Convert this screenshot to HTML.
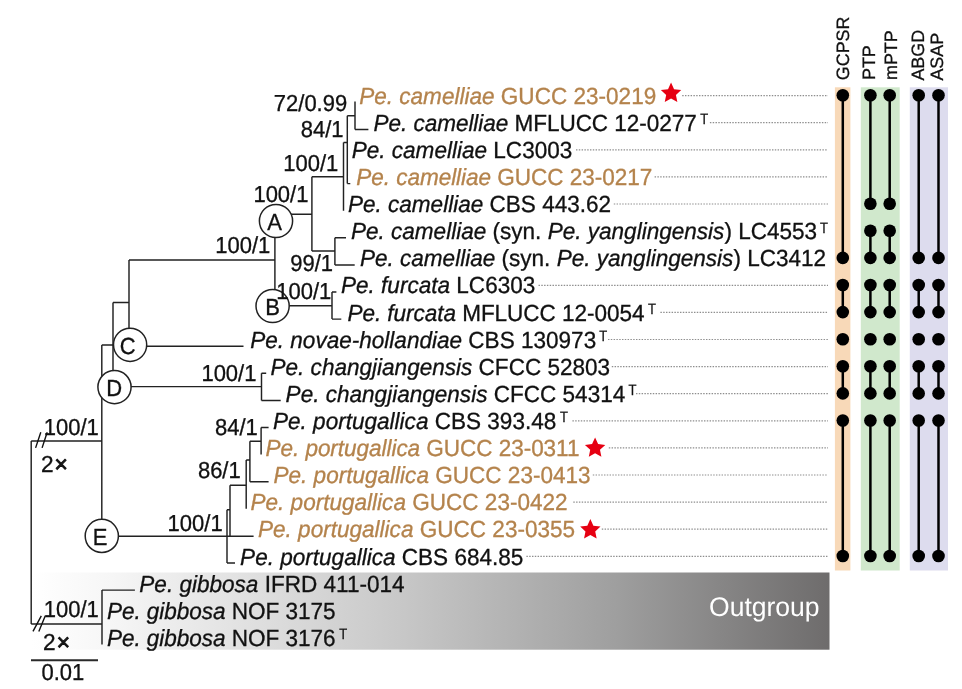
<!DOCTYPE html>
<html lang="en"><head><meta charset="utf-8"><title>Phylogenetic tree</title>
<style>
html,body{margin:0;padding:0;background:#fff;}
body{width:962px;height:689px;overflow:hidden;}
svg{display:block;font-family:"Liberation Sans",Arial,sans-serif;text-rendering:geometricPrecision;}
.t{font-size:22.56px;fill:#111;stroke:#111;stroke-width:.3;}
.br{fill:#b4834c;stroke:#b4834c;}
.i{font-style:italic;}
.lb{font-size:22px;fill:#111;stroke:#111;stroke-width:.3;}
.ln{stroke:#222;stroke-width:1.45;fill:none;stroke-linecap:butt;}
.dot{stroke:#8e8e8e;stroke-width:1.2;stroke-dasharray:1.45 1.35;fill:none;}
.col{font-size:17.9px;fill:#111;stroke:#111;stroke-width:.3;}
.sup{font-size:13px;fill:#111;stroke:#111;stroke-width:.25;}
.cl{stroke:#000;stroke-width:2.5;}
.circ{fill:#fff;stroke:#222;stroke-width:1.5;}
.cn{font-size:22px;fill:#111;text-anchor:middle;stroke:#111;stroke-width:.3;}
</style></head><body>
<svg width="962" height="689" viewBox="0 0 962 689">
<defs><linearGradient id="og" x1="0" y1="0" x2="1" y2="0"><stop offset="0" stop-color="#ffffff"/><stop offset="0.1" stop-color="#f6f6f6"/><stop offset="0.46" stop-color="#c8c8c8"/><stop offset="0.73" stop-color="#9f9f9f"/><stop offset="1" stop-color="#6e6c6c"/></linearGradient></defs>

<rect x="834.9" y="87.3" width="15.5" height="483.2" fill="#f8d9b8"/>
<rect x="860.8" y="87.3" width="38.9" height="483.2" fill="#d0e8cc"/>
<rect x="909.8" y="87.3" width="38.2" height="483.2" fill="#dddcee"/>
<rect x="32" y="572.5" width="797.5" height="77.2" fill="url(#og)"/>
<text x="709" y="616.3" font-size="27" fill="#fff" textLength="110.6" lengthAdjust="spacingAndGlyphs">Outgroup</text>
<line class="dot" x1="682.2" y1="95.6" x2="828" y2="95.6"/>
<line class="dot" x1="709.9" y1="122.7" x2="828" y2="122.7"/>
<line class="dot" x1="576" y1="149.8" x2="828" y2="149.8"/>
<line class="dot" x1="654.6" y1="176.9" x2="828" y2="176.9"/>
<line class="dot" x1="613.8" y1="204.0" x2="828" y2="204.0"/>
<line class="dot" x1="538.5" y1="285.3" x2="828" y2="285.3"/>
<line class="dot" x1="660.4" y1="312.4" x2="828" y2="312.4"/>
<line class="dot" x1="608" y1="339.5" x2="828" y2="339.5"/>
<line class="dot" x1="611.8" y1="366.6" x2="828" y2="366.6"/>
<line class="dot" x1="636" y1="393.7" x2="828" y2="393.7"/>
<line class="dot" x1="572.4" y1="420.8" x2="828" y2="420.8"/>
<line class="dot" x1="608.8" y1="447.9" x2="828" y2="447.9"/>
<line class="dot" x1="592.8" y1="475.0" x2="828" y2="475.0"/>
<line class="dot" x1="573.3" y1="502.1" x2="828" y2="502.1"/>
<line class="dot" x1="601.8" y1="529.2" x2="828" y2="529.2"/>
<line class="dot" x1="526.4" y1="556.3" x2="828" y2="556.3"/>
<path class="ln" d="M355.0 101.5V129.4M355.0 129.4H368.4M347.3 115.7H355.0M347.3 115.7V183.6M347.3 183.6H350.3M343.5 142.4H347.3M343.5 142.4V210.7M311.9 176.7H343.5M311.9 176.7V251.0M311.9 251.0H334.9M334.9 237.8V264.9M334.9 237.8H346.0M334.9 264.9H354.7M280.0 214.2H311.9M274.9 214.2V305.8M129.0 259.9H274.9M275.0 305.8H332.0M332.0 292.0V319.1M332.0 292.0H336.4M332.0 319.1H341.3M129.0 259.9V345.0M129.7 346.2H243.5M113.0 302.5H129.0M113.0 302.5V386.6M114.0 386.6H261.5M261.5 373.3V400.4M261.5 373.3H266.2M261.5 400.4H280.7M101.8 344.9H129.0M101.8 344.9V536.3M101.8 536.3H253.6M31.2 441.0H101.8M31.2 441.0V624.0M31.2 623.9H102.0M102.0 590.1V644.6M102.0 590.1H134.9M227.0 509.8V563.0M227.0 563.0H235.0M227.0 509.8H230.0M230.0 485.3V536.3M230.0 485.3H246.2M246.2 459.9V508.8M246.2 459.9H249.9M249.9 441.2V481.7M249.9 481.7H268.6M249.9 441.2H261.1M261.1 427.5V454.6M261.1 427.5H268.6"/>
<path d="M35.6 447.9L40.8 432.3M42.1 447.9L47.2 432.3M33 631.4L41.3 615.8M38.8 631.4L45.3 615.8" stroke="#111" stroke-width="1.4" fill="none"/>
<line x1="31" y1="660.3" x2="98" y2="660.3" stroke="#2a2a2a" stroke-width="1.9"/>
<text class="lb" transform="translate(41.5 680.4) scale(1 1.05)">0.01</text>
<circle class="circ" cx="276.0" cy="221.0" r="16.6"/>
<text class="cn" transform="translate(274.7 229.9) scale(1 1.06)">A</text>
<circle class="circ" cx="272.6" cy="306.0" r="16.6"/>
<text class="cn" transform="translate(272.6 314.9) scale(1 1.06)">B</text>
<circle class="circ" cx="130.1" cy="344.8" r="16.6"/>
<text class="cn" transform="translate(127.8 353.7) scale(1 1.06)">C</text>
<circle class="circ" cx="114.5" cy="387.1" r="16.6"/>
<text class="cn" transform="translate(114.2 396.0) scale(1 1.06)">D</text>
<circle class="circ" cx="101.8" cy="535.9" r="16.6"/>
<text class="cn" transform="translate(100.0 544.8) scale(1 1.06)">E</text>
<text class="lb" transform="translate(273.8 111.4) scale(1 1.05)">72/0.99</text>
<text class="lb" transform="translate(300.7 137.1) scale(1 1.05)">84/1</text>
<text class="lb" transform="translate(283.3 170.8) scale(1 1.05)">100/1</text>
<text class="lb" transform="translate(253.4 202.0) scale(1 1.05)">100/1</text>
<text class="lb" transform="translate(215.2 253.0) scale(1 1.05)">100/1</text>
<text class="lb" transform="translate(290.2 271.4) scale(1 1.05)">99/1</text>
<text class="lb" transform="translate(276.2 298.6) scale(1 1.05)">100/1</text>
<text class="lb" transform="translate(201.4 380.8) scale(1 1.05)">100/1</text>
<text class="lb" transform="translate(215.0 435.4) scale(1 1.05)">84/1</text>
<text class="lb" transform="translate(197.9 477.8) scale(1 1.05)">86/1</text>
<text class="lb" transform="translate(167.6 530.8) scale(1 1.05)">100/1</text>
<text class="lb" transform="translate(43.8 434.7) scale(1 1.05)">100/1</text>
<text class="lb" transform="translate(43.8 617.3) scale(1 1.05)">100/1</text>
<text class="lb" transform="translate(40.9 472.4) scale(1.03 1.05)">2<tspan dx="1" stroke-width="0.9">×</tspan></text>
<text class="lb" transform="translate(43 650.1) scale(1.03 1.05)">2<tspan dx="1" stroke-width="0.9">×</tspan></text>
<text class="t br" xml:space="preserve" transform="translate(359.2 103.8) scale(1 1.035)"><tspan class="i">Pe. camelliae</tspan> GUCC 23-0219</text>
<polygon points="671.05,82.60 674.07,89.14 681.23,89.99 675.93,94.89 677.34,101.96 671.05,98.44 664.76,101.96 666.17,94.89 660.87,89.99 668.03,89.14" fill="#e60012"/>
<text class="t" letter-spacing="-0.054" xml:space="preserve" transform="translate(373.6 130.8) scale(1 1.035)"><tspan class="i">Pe. camelliae</tspan> MFLUCC 12-0277</text>
<text class="sup" transform="translate(700.3 124.1) scale(1 1.15)">T</text>
<text class="t" xml:space="preserve" transform="translate(351.7 157.9) scale(1 1.035)"><tspan class="i">Pe. camelliae</tspan> LC3003</text>
<text class="t br" letter-spacing="-0.038" xml:space="preserve" transform="translate(356.2 185.1) scale(1 1.035)"><tspan class="i">Pe. camelliae</tspan> GUCC 23-0217</text>
<text class="t" xml:space="preserve" transform="translate(347.9 212.1) scale(1 1.035)"><tspan class="i">Pe. camelliae</tspan> CBS 443.62</text>
<text class="t" xml:space="preserve" transform="translate(350.9 239.2) scale(1 1.035)"><tspan class="i">Pe. camelliae</tspan> (syn. <tspan class="i">Pe. yanglingensis</tspan>) LC4553</text>
<text class="sup" transform="translate(820.1 232.5) scale(1 1.15)">T</text>
<text class="t" xml:space="preserve" transform="translate(359.9 266.4) scale(1 1.035)"><tspan class="i">Pe. camelliae</tspan> (syn. <tspan class="i">Pe. yanglingensis</tspan>) LC3412</text>
<text class="t" xml:space="preserve" transform="translate(341.0 293.4) scale(1 1.035)"><tspan class="i">Pe. furcata</tspan> LC6303</text>
<text class="t" letter-spacing="-0.046" xml:space="preserve" transform="translate(347.4 320.6) scale(1 1.035)"><tspan class="i">Pe. furcata</tspan> MFLUCC 12-0054</text>
<text class="sup" transform="translate(648.0 313.8) scale(1 1.15)">T</text>
<text class="t" xml:space="preserve" transform="translate(250.2 347.6) scale(1 1.035)"><tspan class="i">Pe. novae-hollandiae</tspan> CBS 130973</text>
<text class="sup" transform="translate(599.3 340.9) scale(1 1.15)">T</text>
<text class="t" xml:space="preserve" transform="translate(270.5 374.8) scale(1 1.035)"><tspan class="i">Pe. changjiangensis</tspan> CFCC 52803</text>
<text class="t" xml:space="preserve" transform="translate(285.6 401.9) scale(1 1.035)"><tspan class="i">Pe. changjiangensis</tspan> CFCC 54314</text>
<text class="sup" transform="translate(628.4 395.1) scale(1 1.15)">T</text>
<text class="t" xml:space="preserve" transform="translate(273.0 429.0) scale(1 1.035)"><tspan class="i">Pe. portugallica</tspan> CBS 393.48</text>
<text class="sup" transform="translate(560.0 422.2) scale(1 1.15)">T</text>
<text class="t br" letter-spacing="-0.052" xml:space="preserve" transform="translate(265.5 456.1) scale(1 1.035)"><tspan class="i">Pe. portugallica</tspan> GUCC 23-0311</text>
<polygon points="595.10,437.50 598.12,444.04 605.28,444.89 599.98,449.79 601.39,456.86 595.10,453.34 588.81,456.86 590.22,449.79 584.92,444.89 592.08,444.04" fill="#e60012"/>
<text class="t br" xml:space="preserve" transform="translate(273.5 483.2) scale(1 1.035)"><tspan class="i">Pe. portugallica</tspan> GUCC 23-0413</text>
<text class="t br" xml:space="preserve" transform="translate(250.5 510.2) scale(1 1.035)"><tspan class="i">Pe. portugallica</tspan> GUCC 23-0422</text>
<text class="t br" xml:space="preserve" transform="translate(258.0 537.4) scale(1 1.035)"><tspan class="i">Pe. portugallica</tspan> GUCC 23-0355</text>
<polygon points="590.35,519.10 593.37,525.64 600.53,526.49 595.23,531.39 596.64,538.46 590.35,534.94 584.06,538.46 585.47,531.39 580.17,526.49 587.33,525.64" fill="#e60012"/>
<text class="t" xml:space="preserve" transform="translate(240.1 564.5) scale(1 1.035)"><tspan class="i">Pe. portugallica</tspan> CBS 684.85</text>
<text class="t" xml:space="preserve" transform="translate(139.3 591.6) scale(1 1.035)"><tspan class="i">Pe. gibbosa</tspan> IFRD 411-014</text>
<text class="t" letter-spacing="-0.035" xml:space="preserve" transform="translate(106.9 618.6) scale(1 1.035)"><tspan class="i">Pe. gibbosa</tspan> NOF 3175</text>
<text class="t" letter-spacing="-0.035" xml:space="preserve" transform="translate(106.9 645.8) scale(1 1.035)"><tspan class="i">Pe. gibbosa</tspan> NOF 3176</text>
<text class="sup" transform="translate(339.3 639.0) scale(1 1.15)">T</text>
<line class="cl" x1="842.8" y1="95.3" x2="842.8" y2="257.9"/>
<circle cx="842.8" cy="95.3" r="6.3" fill="#000"/>
<circle cx="842.8" cy="257.9" r="6.3" fill="#000"/>
<line class="cl" x1="842.8" y1="285.0" x2="842.8" y2="312.1"/>
<circle cx="842.8" cy="285.0" r="6.3" fill="#000"/>
<circle cx="842.8" cy="312.1" r="6.3" fill="#000"/>
<circle cx="842.8" cy="339.2" r="6.3" fill="#000"/>
<line class="cl" x1="842.8" y1="366.3" x2="842.8" y2="393.4"/>
<circle cx="842.8" cy="366.3" r="6.3" fill="#000"/>
<circle cx="842.8" cy="393.4" r="6.3" fill="#000"/>
<line class="cl" x1="842.8" y1="420.5" x2="842.8" y2="556.0"/>
<circle cx="842.8" cy="420.5" r="6.3" fill="#000"/>
<circle cx="842.8" cy="556.0" r="6.3" fill="#000"/>
<line class="cl" x1="870.4" y1="95.3" x2="870.4" y2="203.7"/>
<circle cx="870.4" cy="95.3" r="6.3" fill="#000"/>
<circle cx="870.4" cy="203.7" r="6.3" fill="#000"/>
<line class="cl" x1="870.4" y1="230.8" x2="870.4" y2="257.9"/>
<circle cx="870.4" cy="230.8" r="6.3" fill="#000"/>
<circle cx="870.4" cy="257.9" r="6.3" fill="#000"/>
<line class="cl" x1="870.4" y1="285.0" x2="870.4" y2="312.1"/>
<circle cx="870.4" cy="285.0" r="6.3" fill="#000"/>
<circle cx="870.4" cy="312.1" r="6.3" fill="#000"/>
<circle cx="870.4" cy="339.2" r="6.3" fill="#000"/>
<line class="cl" x1="870.4" y1="366.3" x2="870.4" y2="393.4"/>
<circle cx="870.4" cy="366.3" r="6.3" fill="#000"/>
<circle cx="870.4" cy="393.4" r="6.3" fill="#000"/>
<line class="cl" x1="870.4" y1="420.5" x2="870.4" y2="556.0"/>
<circle cx="870.4" cy="420.5" r="6.3" fill="#000"/>
<circle cx="870.4" cy="556.0" r="6.3" fill="#000"/>
<line class="cl" x1="889.7" y1="95.3" x2="889.7" y2="203.7"/>
<circle cx="889.7" cy="95.3" r="6.3" fill="#000"/>
<circle cx="889.7" cy="203.7" r="6.3" fill="#000"/>
<line class="cl" x1="889.7" y1="230.8" x2="889.7" y2="257.9"/>
<circle cx="889.7" cy="230.8" r="6.3" fill="#000"/>
<circle cx="889.7" cy="257.9" r="6.3" fill="#000"/>
<line class="cl" x1="889.7" y1="285.0" x2="889.7" y2="312.1"/>
<circle cx="889.7" cy="285.0" r="6.3" fill="#000"/>
<circle cx="889.7" cy="312.1" r="6.3" fill="#000"/>
<circle cx="889.7" cy="339.2" r="6.3" fill="#000"/>
<line class="cl" x1="889.7" y1="366.3" x2="889.7" y2="393.4"/>
<circle cx="889.7" cy="366.3" r="6.3" fill="#000"/>
<circle cx="889.7" cy="393.4" r="6.3" fill="#000"/>
<line class="cl" x1="889.7" y1="420.5" x2="889.7" y2="556.0"/>
<circle cx="889.7" cy="420.5" r="6.3" fill="#000"/>
<circle cx="889.7" cy="556.0" r="6.3" fill="#000"/>
<line class="cl" x1="918.7" y1="95.3" x2="918.7" y2="257.9"/>
<circle cx="918.7" cy="95.3" r="6.3" fill="#000"/>
<circle cx="918.7" cy="257.9" r="6.3" fill="#000"/>
<line class="cl" x1="918.7" y1="285.0" x2="918.7" y2="312.1"/>
<circle cx="918.7" cy="285.0" r="6.3" fill="#000"/>
<circle cx="918.7" cy="312.1" r="6.3" fill="#000"/>
<circle cx="918.7" cy="339.2" r="6.3" fill="#000"/>
<line class="cl" x1="918.7" y1="366.3" x2="918.7" y2="393.4"/>
<circle cx="918.7" cy="366.3" r="6.3" fill="#000"/>
<circle cx="918.7" cy="393.4" r="6.3" fill="#000"/>
<line class="cl" x1="918.7" y1="420.5" x2="918.7" y2="556.0"/>
<circle cx="918.7" cy="420.5" r="6.3" fill="#000"/>
<circle cx="918.7" cy="556.0" r="6.3" fill="#000"/>
<line class="cl" x1="938.5" y1="95.3" x2="938.5" y2="257.9"/>
<circle cx="938.5" cy="95.3" r="6.3" fill="#000"/>
<circle cx="938.5" cy="257.9" r="6.3" fill="#000"/>
<line class="cl" x1="938.5" y1="285.0" x2="938.5" y2="312.1"/>
<circle cx="938.5" cy="285.0" r="6.3" fill="#000"/>
<circle cx="938.5" cy="312.1" r="6.3" fill="#000"/>
<circle cx="938.5" cy="339.2" r="6.3" fill="#000"/>
<line class="cl" x1="938.5" y1="366.3" x2="938.5" y2="393.4"/>
<circle cx="938.5" cy="366.3" r="6.3" fill="#000"/>
<circle cx="938.5" cy="393.4" r="6.3" fill="#000"/>
<line class="cl" x1="938.5" y1="420.5" x2="938.5" y2="556.0"/>
<circle cx="938.5" cy="420.5" r="6.3" fill="#000"/>
<circle cx="938.5" cy="556.0" r="6.3" fill="#000"/>
<text class="col" transform="translate(849.2 80.2) rotate(-90)">GCPSR</text>
<text class="col" transform="translate(875.0 80.0) rotate(-90)">PTP</text>
<text class="col" transform="translate(896.8 80.0) rotate(-90)">mPTP</text>
<text class="col" transform="translate(924.4 80.6) rotate(-90)">ABGD</text>
<text class="col" transform="translate(943.4 80.6) rotate(-90)">ASAP</text>
</svg></body></html>
